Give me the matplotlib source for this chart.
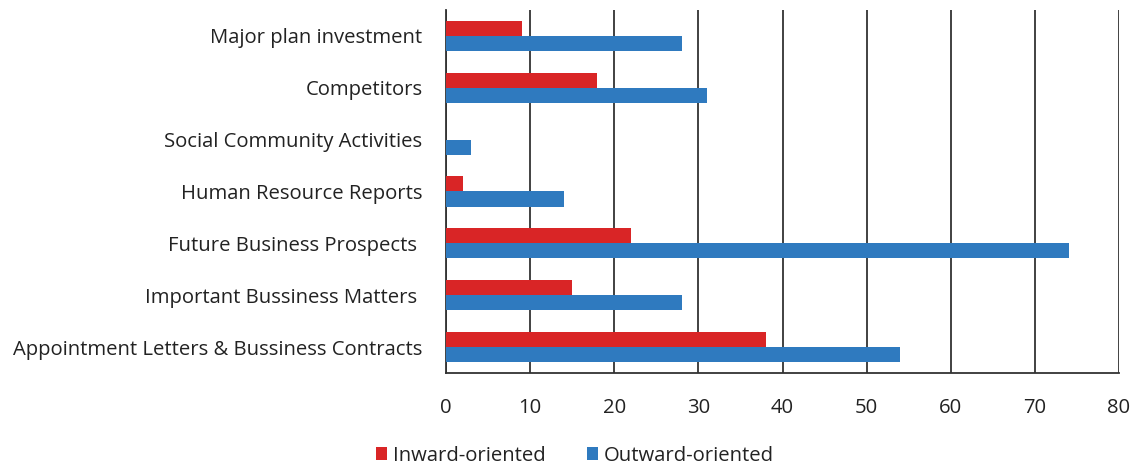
import matplotlib
matplotlib.use("Agg")
import matplotlib.pyplot as plt
import numpy as np

categories = [
    "Major plan investment",
    "Competitors",
    "Social Community Activities",
    "Human Resource Reports",
    "Future Business Prospects ",
    "Important Bussiness Matters ",
    "Appointment Letters & Bussiness Contracts",
]
inward = [9, 18, 0, 2, 22, 15, 38]
outward = [28, 31, 3, 14, 74, 28, 54]
xticks = [0, 10, 20, 30, 40, 50, 60, 70, 80]

plt.rcParams["font.family"] = ["Open Sans", "DejaVu Sans"]
fs = 14.6

fig = plt.figure(figsize=(11.34, 4.69), dpi=100)
ax = fig.add_axes([0.3933, 0.2047, 0.5935, 0.774])

y = np.arange(len(categories))
h = 0.29
red = "#d92526"
blue = "#2f7abf"
ax.barh(y - h / 2, inward, height=h, color=red, label="Inward-oriented", zorder=3)
ax.barh(y + h / 2, outward, height=h, color=blue, label="Outward-oriented", zorder=3)

ax.set_xlim(0, 80)
ax.set_ylim(len(categories) - 0.5, -0.5)
ax.set_xticks(xticks)
ax.set_xticklabels([str(t) for t in xticks], fontsize=fs, color="#222222")
ax.set_yticks(y)
ax.set_yticklabels(categories, fontsize=fs, color="#222222")
ax.tick_params(axis="both", length=0)
ax.tick_params(axis="x", pad=18)
ax.tick_params(axis="y", pad=17)

ax.grid(axis="x", color="#333333", linewidth=1.3, zorder=0)
for s in ["top", "right"]:
    ax.spines[s].set_visible(False)
for s in ["left", "bottom"]:
    ax.spines[s].set_color("#333333")
    ax.spines[s].set_linewidth(1.3)

ax.legend(loc="center", bbox_to_anchor=(0.1917, -0.228), ncol=2, frameon=False,
          fontsize=fs, handlelength=0.55, handleheight=0.55, handletextpad=0.3,
          columnspacing=2.0, labelcolor="#222222")

fig.savefig("out.png", dpi=100)
